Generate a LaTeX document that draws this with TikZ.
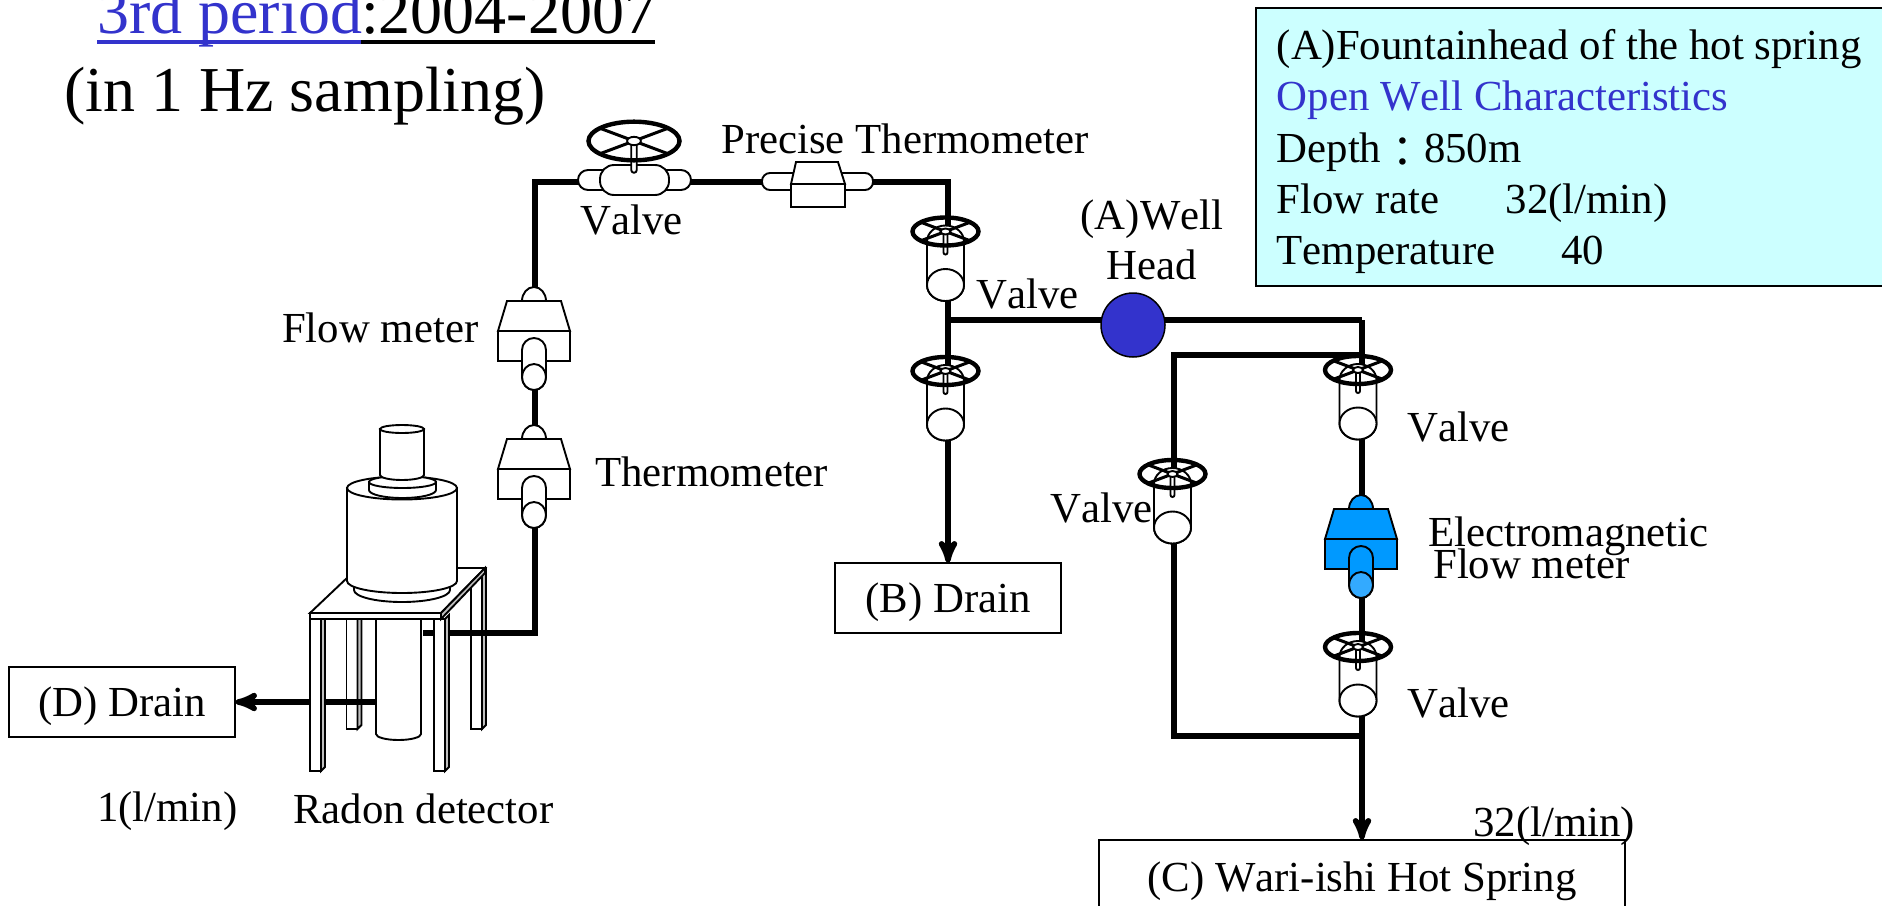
\documentclass[tikz,border=0pt]{standalone}
\usepackage{fontspec}
\setmainfont[Kerning=Off]{Liberation Serif}
\newfontfamily\cjkfont{Noto Sans CJK JP}
\usetikzlibrary{arrows}

\definecolor{titleblue}{HTML}{3333CC}
\definecolor{infocyan}{HTML}{CCFFFF}
\definecolor{meterblue}{HTML}{0099FF}
\definecolor{meterlight}{HTML}{33AAFF}

\tikzset{
    pipe/.style={line width=5.6pt,miter limit=10},
    outline/.style={line width=1.9pt,fill=white},
    label/.style={font=\fontsize{42.8}{50}\selectfont,inner sep=0pt,anchor=base west},
    titletext/.style={label,font=\fontsize{64}{64}\selectfont},
    drainbox/.style={draw,line width=1.3pt,fill=white,inner sep=0pt,text height=34pt,text depth=6pt,font=\fontsize{42.8}{50}\selectfont},
    every pic/.append style={yscale=-1},
    pics/wheel/.style={code={
        \draw[outline] (-2,0) -- (-2,21) arc[radius=2,start angle=180,end angle=0] -- (2,0) -- cycle;
        \draw[line width=3pt] (-24,-9) -- (24,9) (-24,9) -- (24,-9);
        \draw[line width=4.4pt] (0,0) ellipse [x radius=33,y radius=14];
        \draw[outline] (0,0) ellipse [x radius=5,y radius=3];
    }},
    pics/valve/.style={code={
        \draw[outline] (-18.5,10) arc[x radius=18.5,y radius=16,start angle=180,end angle=360] -- (18.5,53.5) arc[x radius=18.5,y radius=16,start angle=0,end angle=180] -- cycle;
        \draw[outline] (0,53.5) ellipse [x radius=18.5,y radius=16];
        \pic {wheel};
    }},
    pics/flowmeter/.style n args={2}{code={
        \draw[outline,fill=#1] (-12,-30) arc[x radius=12,y radius=14,start angle=180,end angle=360] -- cycle;
        \draw[outline,fill=#1] (-27,-30) -- (27,-30) -- (36,0) -- (-36,0) -- cycle;
        \draw[outline,fill=#1] (-36,0) rectangle (36,30);
        \draw[outline,fill=#1] (-12,19) arc[radius=12,start angle=180,end angle=360] -- (12,46) arc[x radius=12,y radius=13,start angle=0,end angle=180] -- cycle;
        \draw[outline,fill=#2] (0,46) ellipse [x radius=12,y radius=13];
    }},
    pics/tableleg/.style={code={
        \draw[outline] (0,0) rectangle (11,#1);
        \draw[outline,fill=gray!50] (11,0) -- (15,-4) -- (15,#1-4) -- (11,#1) -- cycle;
    }}
}

\begin{document}
\begin{tikzpicture}[yscale=-1,x=1pt,y=1pt,>=stealth']
    \useasboundingbox (0,0) rectangle (1882,905);
    %
    \node[draw,line width=1.5pt,fill=infocyan,anchor=north west,inner xsep=21pt,inner ysep=0pt,minimum height=278pt,text width=620pt,align=left,font=\fontsize{42.8}{51.2}\selectfont] (info_box) at (1255,7) {\spaceskip=.25em\relax\rule{0pt}{40pt}(A)Fountainhead of the hot spring\\
    \textcolor{titleblue}{Open Well Characteristics}\\
    Depth\raisebox{-5pt}{\cjkfont ：}850m\\
    Flow rate\hspace{66pt}32(l/min)\\
    Temperature\hspace{66pt}40};
    %
    \node[titletext,text=titleblue] (title_period) at (97,33) {3rd period};
    \node[titletext] (title_years) at (361,33) {:2004-2007};
    \draw[line width=4.5pt,titleblue] (97,42) -- (361,42);
    \draw[line width=4.5pt] (361,42) -- (655,42);
    \node[titletext] (title_rate) at (64,111) {(in 1 Hz sampling)};
    %
    \node[drainbox,minimum width=226pt,minimum height=70pt] (drain_b) at (948,598) {(B) Drain};
    \node[drainbox,minimum width=226pt,minimum height=70pt] (drain_d) at (122,702) {(D) Drain};
    \node[drainbox,minimum width=526pt,minimum height=75pt] (spring_c) at (1362,877.5) {(C) Wari-ishi Hot Spring};
    %
    \coordinate (cell_out) at (423,633);
    \coordinate (cell_corner) at (535,633);
    \coordinate (top_left) at (535,182);
    \coordinate (top_right) at (948,182);
    \coordinate (tee_left) at (948,320);
    \coordinate (tee_right) at (1362,320);
    \coordinate (bypass_right) at (1362,355);
    \coordinate (bypass_left) at (1174,355);
    \coordinate (bypass_low) at (1174,736);
    \coordinate (bypass_end) at (1362,736);
    \coordinate (cell_drain) at (377,702);
    %
    \pic at (346.5,619) {tableleg=110};
    \pic at (471,573) {tableleg=156};
    \draw[pipe] (cell_out) -- (cell_corner) -- (top_left) -- (top_right) -- (tee_left);
    \draw[pipe,->] (tee_left) -- (drain_b);
    \draw[pipe] (tee_left) -- (tee_right);
    \draw[pipe,->] (tee_right) -- (spring_c);
    \draw[pipe] (bypass_right) -- (bypass_left) -- (bypass_low) -- (bypass_end);
    \draw[pipe,->] (cell_drain) -- (drain_d);
    %
    \node[circle,draw,line width=1.5pt,fill=titleblue,minimum size=64pt,inner sep=0pt] (well_head) at (1133,325) {};
    %
    \pic at (945.5,231.5) {valve};
    \pic at (945.5,371) {valve};
    \pic at (1358,370) {valve};
    \pic at (1172.5,474) {valve};
    \pic at (1358,647) {valve};
    %
    \pic at (534,331) {flowmeter={white}{white}};
    \pic at (534,469) {flowmeter={white}{white}};
    \pic at (1361,539) {flowmeter={meterblue}{meterlight}};
    %
    \draw[outline,rounded corners=10pt] (578,170) rectangle (691,190);
    \draw[outline,rounded corners=14pt] (600,165) rectangle (669,195);
    \pic[scale=1.38] at (634,141) {wheel};
    %
    \draw[outline,rounded corners=8pt] (762,173) rectangle (873,190);
    \draw[outline] (796,162) -- (838,162) -- (845,184) -- (791,184) -- cycle;
    \draw[outline] (791,184) rectangle (845,207);
    %
    \draw[outline] (376,619) -- (376,734) arc[x radius=22.5,y radius=6,start angle=180,end angle=0] -- (421,619) -- cycle;
    \pic at (310,619) {tableleg=152};
    \pic at (434,619) {tableleg=152};
    \draw[outline] (310,613) -- (441,613) -- (485,568) -- (357.5,568) -- cycle;
    \draw[outline] (310,613) rectangle (441,619);
    \draw[outline,fill=gray!50] (441,613) -- (485,568) -- (485,573) -- (441,619) -- cycle;
    %
    \draw[outline] (354,586) -- (354,590) arc[x radius=48,y radius=12,start angle=180,end angle=0] -- (450,586) -- cycle;
    \draw[outline] (347,488) -- (347,581) arc[x radius=55,y radius=12,start angle=180,end angle=0] -- (457,488) -- cycle;
    \draw[outline] (402,488) ellipse [x radius=55,y radius=11.5];
    \draw[outline] (369,482) -- (369,490) arc[x radius=33.5,y radius=8,start angle=180,end angle=0] -- (436,482) -- cycle;
    \draw[outline] (402.5,482) ellipse [x radius=33.5,y radius=6];
    \draw[outline] (380,429) -- (380,475) arc[x radius=22,y radius=5,start angle=180,end angle=0] -- (424,429) -- cycle;
    \draw[outline] (402,429) ellipse [x radius=22,y radius=4];
    %
    \node[label] (precise_label) at (721,153) {Precise Thermometer};
    \node[label] (valve_top_label) at (580,234) {Valve};
    \node[label] (flow_label) at (282,342) {Flow meter};
    \node[label] (thermo_label) at (595,486) {Thermometer};
    \node[label] (valve_mid_label) at (976,308) {Valve};
    \node[label,align=center,anchor=center,font=\fontsize{42.8}{50}\selectfont] (well_label) at (1152,240) {(A)Well\\Head};
    \node[label] (valve_right_label) at (1407,441) {Valve};
    \node[label] (valve_left_label) at (1050,522) {Valve};
    \node[label] (valve_low_label) at (1407,717) {Valve};
    \node[label] (em_label_a) at (1428,546) {Electromagnetic};
    \node[label] (em_label_b) at (1433,578) {Flow meter};
    \node[label] (rate_c_label) at (1473,836) {32(l/min)};
    \node[label] (rate_d_label) at (97,821) {1(l/min)};
    \node[label] (radon_label) at (293,823) {Radon detector};
\end{tikzpicture}
\end{document}
